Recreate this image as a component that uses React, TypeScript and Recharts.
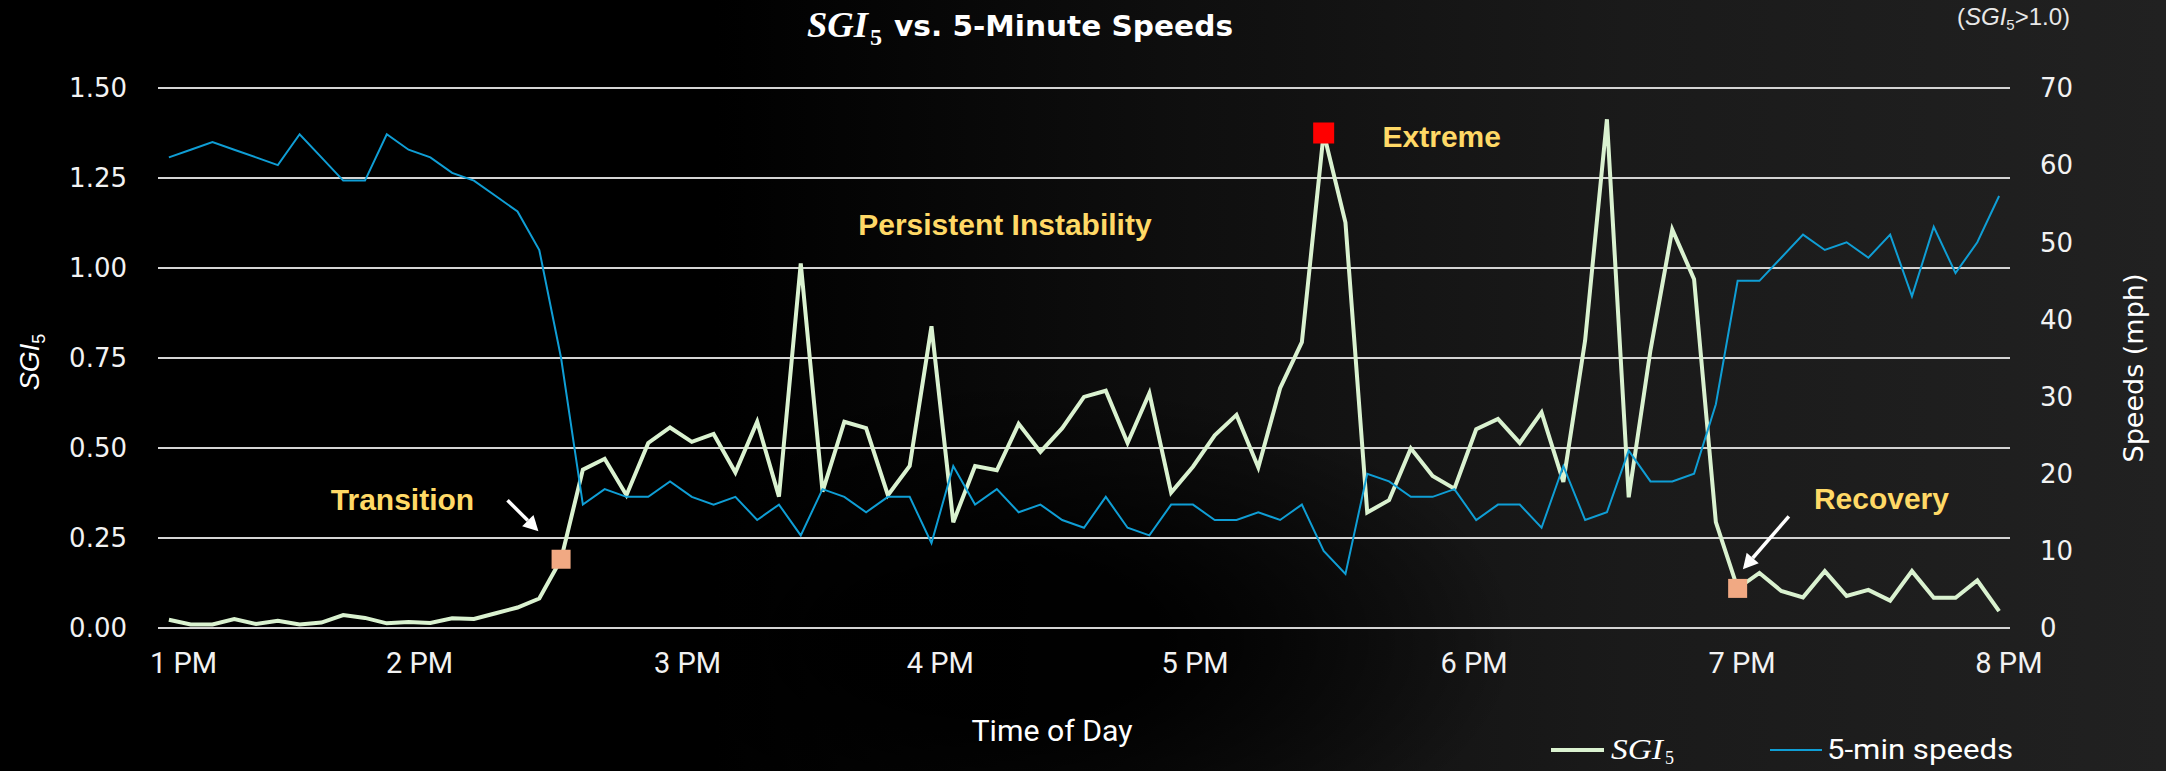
import React from "react";
import { LineChart, Line, XAxis, YAxis, CartesianGrid, ReferenceDot, ReferenceLine } from "recharts";

/* ---------- data (5-minute steps, 1 PM .. 8 PM) ---------- */
const sgiValues = [
  0.023, 0.01, 0.01, 0.025, 0.011, 0.02, 0.01, 0.015, 0.036, 0.028,
  0.013, 0.017, 0.014, 0.027, 0.025, 0.041, 0.057, 0.082, 0.191, 0.44,
  0.47, 0.369, 0.514, 0.557, 0.517, 0.539, 0.432, 0.573, 0.365, 1.013,
  0.379, 0.573, 0.555, 0.369, 0.45, 0.838, 0.294, 0.45, 0.438, 0.567,
  0.489, 0.555, 0.642, 0.659, 0.514, 0.652, 0.376, 0.448, 0.535, 0.592,
  0.446, 0.666, 0.794, 1.375, 1.126, 0.321, 0.355, 0.499, 0.422, 0.387,
  0.552, 0.581, 0.514, 0.599, 0.406, 0.799, 1.413, 0.363, 0.772, 1.107,
  0.969, 0.294, 0.11, 0.153, 0.103, 0.085, 0.158, 0.089, 0.106, 0.076,
  0.158, 0.084, 0.084, 0.132, 0.047,
];

const speedValues = [
  61, 62, 63, 62, 61, 60, 64, 61, 58, 58,
  64, 62, 61, 59, 58, 56, 54, 49, 35, 16,
  18, 17, 17, 19, 17, 16, 17, 14, 16, 12,
  18, 17, 15, 17, 17, 11, 21, 16, 18, 15,
  16, 14, 13, 17, 13, 12, 16, 16, 14, 14,
  15, 14, 16, 10, 7, 20, 19, 17, 17, 18,
  14, 16, 16, 13, 21, 14, 15, 23, 19, 19,
  20, 29, 45, 45, 48, 51, 49, 50, 48, 51,
  43, 52, 46, 50, 56,
];

// hour labels and where they sit on the category index axis
const hourLabels = ["1 PM", "2 PM", "3 PM", "4 PM", "5 PM", "6 PM", "7 PM", "8 PM"];
const hourTickPos = [0.67, 11.5, 23.8, 35.4, 47.1, 59.9, 72.2, 84.45];

const sgiTicks = [0, 0.25, 0.5, 0.75, 1.0, 1.25, 1.5];
const speedTicks = [0, 10, 20, 30, 40, 50, 60, 70];

// highlighted points (index into the series)
const markerPoints = [
  { idx: 18, color: "#F1A983", size: 19 },
  { idx: 53, color: "#FF0000", size: 21 },
  { idx: 72, color: "#F1A983", size: 19 },
];

// annotation labels, anchored in (index, SGI) units
const notes = [
  { text: "Transition", x: 10.72, y: 0.357 },
  { text: "Persistent Instability", x: 38.37, y: 1.121 },
  { text: "Extreme", x: 58.42, y: 1.368 },
  { text: "Recovery", x: 78.6, y: 0.36 },
];

const arrows = [
  { from: { x: 15.54, y: 0.355 }, to: { x: 16.96, y: 0.269 } },
  { from: { x: 74.35, y: 0.31 }, to: { x: 72.24, y: 0.163 } },
];

const SGI_COLOR = "#DAF2D0";
const SPEED_COLOR = "#0F9ED5";
const NOTE_COLOR = "#FFD966";
const W = 2166;
const H = 771;

const rows = sgiValues.map((v, i) => ({ idx: i, sgi: v, speed: speedValues[i] }));

function Arrow(p: any) {
  const { x1, y1, x2, y2 } = p;
  const ang = Math.atan2(y2 - y1, x2 - x1);
  const head = 15, half = 8;
  const bx = x2 - head * Math.cos(ang);
  const by = y2 - head * Math.sin(ang);
  const px = -Math.sin(ang) * half, py = Math.cos(ang) * half;
  return (
    <g>
      <line x1={x1} y1={y1} x2={bx} y2={by} stroke="#fff" strokeWidth={3.5} />
      <polygon points={`${x2},${y2} ${bx + px},${by + py} ${bx - px},${by - py}`} fill="#fff" />
    </g>
  );
}

const tickFont = { fill: "#f2f2f2", fontSize: 26, fontFamily: "'DejaVu Sans', sans-serif" };

export default function App() {
  return (
    <div
      style={{
        position: "fixed", left: 0, top: 0, width: W, height: H, overflow: "hidden",
        background:
          "radial-gradient(ellipse 520px 260px at 1000px 640px, rgba(0,0,0,0.95) 30%, rgba(0,0,0,0) 100%)," +
          "linear-gradient(90deg, #000 0%, #000 33%, #0f0f0f 55%, #1a1a1a 75%, #212121 100%)",
      }}
    >
      <LineChart width={W} height={H} data={rows} margin={{ top: 88, right: 0, bottom: 83, left: 0 }}>
        <CartesianGrid yAxisId="sgi" vertical={false} stroke="#d4d4d4" strokeWidth={2} />
        <XAxis
          dataKey="idx" type="number" domain={[-0.5, 84.5]} ticks={hourTickPos} interval={0}
          tickFormatter={(v) => hourLabels[hourTickPos.indexOf(v)] ?? ""}
          height={60} axisLine={false} tickLine={false} tickSize={0} tickMargin={24}
          tick={{ fill: "#f2f2f2", fontSize: 29, fontFamily: "Roboto, sans-serif" }}
        />
        <YAxis
          yAxisId="sgi" orientation="left" width={158} domain={[0, 1.5]} ticks={sgiTicks}
          tickFormatter={(v) => Number(v).toFixed(2)} axisLine={false} tickLine={false}
          tickSize={0} tickMargin={31} tick={tickFont} interval={0}
        />
        <YAxis
          yAxisId="speed" orientation="right" width={156} domain={[0, 70]} ticks={speedTicks}
          axisLine={false} tickLine={false} tickSize={0} tickMargin={30} tick={tickFont} interval={0}
        />
        <Line yAxisId="sgi" type="linear" dataKey="sgi" stroke={SGI_COLOR} strokeWidth={4} dot={false} isAnimationActive={false} />
        <Line yAxisId="speed" type="linear" dataKey="speed" stroke={SPEED_COLOR} strokeWidth={2} dot={false} isAnimationActive={false} />

        {arrows.map((a, i) => (
          <ReferenceLine key={`ar${i}`} yAxisId="sgi" segment={[a.from, a.to]} shape={(p: any) => <Arrow {...p} />} />
        ))}

        {markerPoints.map((m) => (
          <ReferenceDot
            key={`m${m.idx}`} yAxisId="sgi" x={m.idx} y={sgiValues[m.idx]}
            shape={(p: any) => (
              <rect x={p.cx - m.size / 2} y={p.cy - m.size / 2} width={m.size} height={m.size} fill={m.color} />
            )}
          />
        ))}

        {notes.map((n) => (
          <ReferenceDot
            key={n.text} yAxisId="sgi" x={n.x} y={n.y}
            shape={(p: any) => (
              <text
                x={p.cx} y={p.cy + 11} textAnchor="middle" fill={NOTE_COLOR}
                fontFamily="'Liberation Sans', Arial, sans-serif" fontWeight={700} fontSize={30}
              >
                {n.text}
              </text>
            )}
          />
        ))}
      </LineChart>

      {/* titles, axis titles and legend */}
      <svg width={W} height={H} style={{ position: "absolute", left: 0, top: 0, pointerEvents: "none" }}>
        <text x={807} y={37} fill="#fff" fontFamily="'Liberation Serif', serif" fontStyle="italic" fontWeight={700}
          fontSize={36} textLength={61} lengthAdjust="spacingAndGlyphs">SGI</text>
        <text x={870} y={45} fill="#fff" fontFamily="'Liberation Serif', serif" fontWeight={700} fontSize={24}>5</text>
        <text x={894} y={36} fill="#fff" fontFamily="'DejaVu Sans', sans-serif" fontWeight={700} fontSize={28}
          textLength={339} lengthAdjust="spacingAndGlyphs">vs. 5-Minute Speeds</text>

        <text x={1957} y={25} fill="#e8e8e8" fontFamily="'Liberation Sans', Arial, sans-serif" fontSize={24}>
          (<tspan fontStyle="italic">SGI</tspan><tspan fontSize={15} dy={5}>5</tspan><tspan dy={-5}>&gt;1.0)</tspan>
        </text>

        <text transform="translate(39,362) rotate(-90)" textAnchor="middle" fill="#fff"
          fontFamily="'Liberation Sans', Arial, sans-serif" fontSize={27}>
          <tspan fontStyle="italic">SGI</tspan><tspan fontSize={18} dy={6}>5</tspan>
        </text>
        <text transform="translate(2143,368) rotate(-90)" textAnchor="middle" fill="#fff"
          fontFamily="'DejaVu Sans', sans-serif" fontSize={27}>Speeds (mph)</text>
        <text x={1052} y={741} textAnchor="middle" fill="#fff" fontFamily="Roboto, sans-serif" fontSize={29}
          textLength={161} lengthAdjust="spacingAndGlyphs">Time of Day</text>

        {/* legend */}
        <line x1={1551} x2={1604} y1={750} y2={750} stroke={SGI_COLOR} strokeWidth={4} />
        <text x={1611} y={759} fill="#fff" fontFamily="'Liberation Serif', serif" fontStyle="italic" fontSize={30}
          textLength={52} lengthAdjust="spacingAndGlyphs">SGI</text>
        <text x={1665} y={764} fill="#fff" fontFamily="'Liberation Serif', serif" fontSize={18}>5</text>
        <line x1={1770} x2={1822} y1={750} y2={750} stroke={SPEED_COLOR} strokeWidth={2} />
        <text x={1827} y={759} fill="#fff" fontFamily="Roboto, sans-serif" fontSize={28}
          textLength={186} lengthAdjust="spacingAndGlyphs">5-min speeds</text>
      </svg>
    </div>
  );
}
